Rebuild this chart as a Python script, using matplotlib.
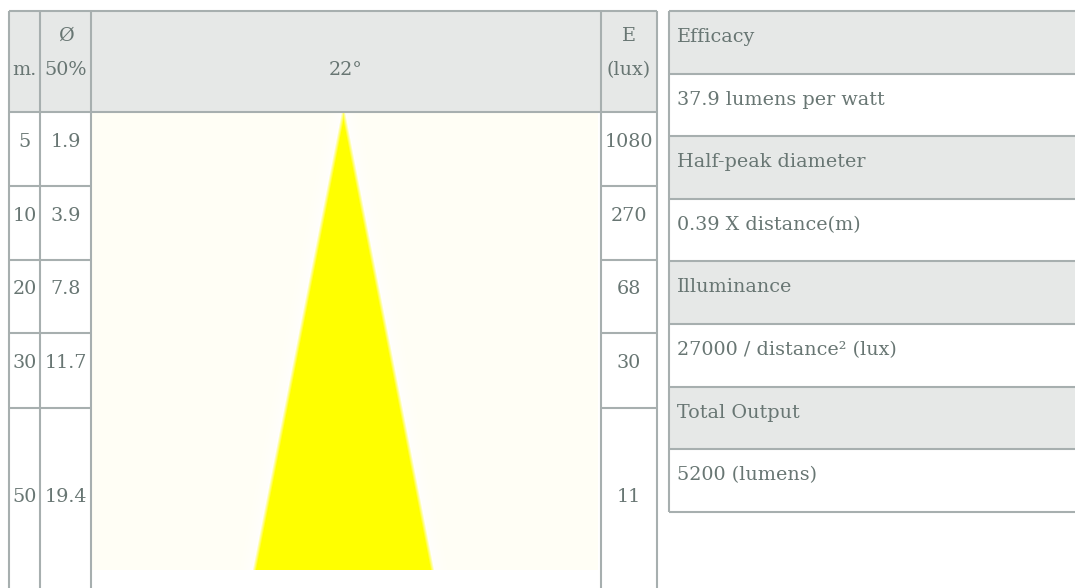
import numpy as np
import matplotlib
matplotlib.use("Agg")
import matplotlib.pyplot as plt
from matplotlib.patches import Rectangle

# ---------------- data ----------------
distances_m = [5, 10, 20, 30, 50]
diameter_50 = [1.9, 3.9, 7.8, 11.7, 19.4]
illuminance_lux = [1080, 270, 68, 30, 11]
beam_angle_deg = 22
header_left = ["m.", ["Ø", "50%"], f"{beam_angle_deg}°", ["E", "(lux)"]]
info_labels = ["Efficacy", "Half-peak diameter", "Illuminance", "Total Output"]
info_values = ["37.9 lumens per watt", "0.39 X distance(m)",
               "27000 / distance² (lux)", "5200 (lumens)"]

# ---------------- style ----------------
W, H = 1075, 588
TXT = "#687673"
HDR = "#e6e8e7"
LINE = "#a7afaf"
LW = 1.5
FONT = "DejaVu Serif"
FS = 13.8

fig = plt.figure(figsize=(W / 100, H / 100), dpi=100)
ax = fig.add_axes([0, 0, 1, 1])
ax.set_xlim(0, W)
ax.set_ylim(H, 0)
ax.axis("off")

# ---------------- left table ----------------
col_x = [9, 40, 91, 601, 657]
row_y = [11, 112, 186, 260, 333, 408, 600]

ax.add_patch(Rectangle((col_x[0], row_y[0]), col_x[-1] - col_x[0], row_y[1] - row_y[0],
                       facecolor=HDR, edgecolor="none", zorder=1))

# beam illustration inside the image cell
img_x0, img_x1, img_y0, img_y1 = 92, 598, 112, 570
iw, ih = img_x1 - img_x0, img_y1 - img_y0
yy, xx = np.mgrid[0:ih, 0:iw].astype(float)
cx = (iw - 1) / 2 - 1.5
half = np.tan(np.radians(beam_angle_deg / 2))
halfw = (yy + 0.5) * half
d = np.abs(xx - cx) - halfw  # horizontal distance from the beam edge
cream = np.array([255, 254, 245]) / 255.0
white = np.array([255, 255, 255]) / 255.0
yellow = np.array([255, 255, 0]) / 255.0
halo = np.clip(1 - np.clip(d, 0, None) / 22.0, 0, 1) ** 2 * 0.9
img = cream[None, None, :] * (1 - halo[..., None]) + white[None, None, :] * halo[..., None]
a = np.clip(0.5 - d / 4.0, 0, 1)
img = img * (1 - a[..., None]) + yellow[None, None, :] * a[..., None]
ax.imshow(img, extent=(img_x0, img_x1, img_y1, img_y0), interpolation="bilinear",
          zorder=1, aspect="auto")

# borders
def hline(x0, x1, y):
    ax.plot([x0, x1], [y, y], color=LINE, lw=LW, zorder=3, solid_capstyle="butt")

def vline(x, y0, y1):
    ax.plot([x, x], [y0, y1], color=LINE, lw=LW, zorder=3, solid_capstyle="butt")

hline(col_x[0], col_x[-1], row_y[0])
hline(col_x[0], col_x[-1], row_y[1])
for yv in row_y[2:-1]:
    hline(col_x[0], col_x[2], yv)
    hline(col_x[3], col_x[4], yv)
for xv in col_x:
    vline(xv, row_y[0], H + 5)

tkw = dict(color=TXT, family=FONT, fontsize=FS, va="baseline", zorder=4)
centers = [(col_x[i] + col_x[i + 1]) / 2 for i in range(4)]
# header
ax.text(centers[0], 75, header_left[0], ha="center", **tkw)
ax.text(centers[1], 41, header_left[1][0], ha="center", **tkw)
ax.text(centers[1], 75, header_left[1][1], ha="center", **tkw)
ax.text(centers[2], 75, header_left[2], ha="center", **tkw)
ax.text(centers[3], 41, header_left[3][0], ha="center", **tkw)
ax.text(centers[3], 75, header_left[3][1], ha="center", **tkw)
# rows
for i, (dm, dia, lx) in enumerate(zip(distances_m, diameter_50, illuminance_lux)):
    yc = (row_y[i + 1] + row_y[i + 2]) / 2 - 2
    ax.text(centers[0], yc, f"{dm}", ha="center", **tkw)
    ax.text(centers[1], yc, f"{dia}", ha="center", **tkw)
    ax.text(centers[3], yc, f"{lx}", ha="center", **tkw)

# ---------------- right table ----------------
rx0, rx1 = 669, W + 10
ry0, rh = 11, 62.6
n = 2 * len(info_labels)
for k in range(n):
    top = ry0 + k * rh
    is_hdr = k % 2 == 0
    ax.add_patch(Rectangle((rx0, top), rx1 - rx0, rh,
                           facecolor=HDR if is_hdr else "white", edgecolor="none", zorder=1))
    txt = info_labels[k // 2] if is_hdr else info_values[k // 2]
    ax.text(rx0 + 8, top + 31, txt, ha="left", **tkw)
for k in range(n + 1):
    hline(rx0, rx1, ry0 + k * rh)
vline(rx0, ry0, ry0 + n * rh)

fig.savefig("out.png", dpi=100, facecolor="white")
